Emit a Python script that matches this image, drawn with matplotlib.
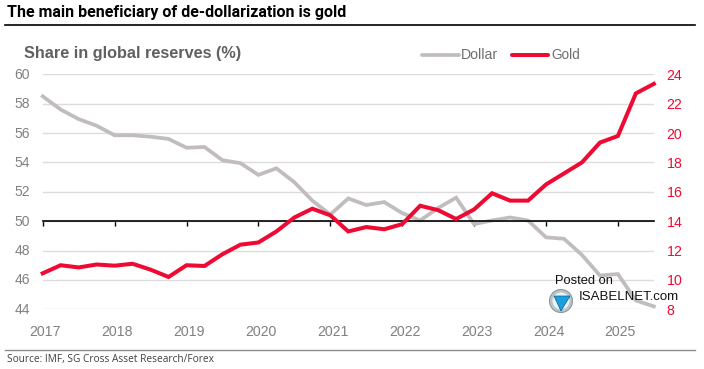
import matplotlib.pyplot as plt
import matplotlib.lines as mlines
from matplotlib.patches import Circle, Polygon
from matplotlib.transforms import ScaledTranslation
import numpy as np

# quarterly readings, 2017 to mid 2025
quarters = np.arange(35) / 4 + 2017
dollar = [58.5, 57.6, 56.95, 56.5, 55.85, 55.85, 55.75, 55.6, 55.0, 55.05,
          54.15, 53.95, 53.15, 53.6, 52.65, 51.4, 50.45, 51.55, 51.1, 51.3,
          50.55, 50.05, 50.9, 51.6, 49.8, 50.05, 50.25, 50.05, 48.9, 48.8,
          47.7, 46.3, 46.4, 44.6, 44.2]
gold = [10.45, 11.0, 10.85, 11.05, 10.97, 11.1, 10.7, 10.2, 11.0, 10.95,
        11.75, 12.4, 12.55, 13.3, 14.25, 14.85, 14.4, 13.3, 13.6, 13.45,
        13.8, 15.05, 14.75, 14.15, 14.8, 15.9, 15.4, 15.4, 16.5, 17.25,
        18.0, 19.35, 19.8, 22.7, 23.35]
years = list(range(2017, 2026))
left_ticks = list(range(44, 61, 2))
right_ticks = list(range(8, 25, 2))

W, H = 704, 369
GREY = '#c2bdbd'
RED = '#ee0a32'
TICKGREY = '#808080'
SANS = ['Liberation Sans', 'DejaVu Sans']

plt.rcParams['font.family'] = SANS
fig = plt.figure(figsize=(W / 100, H / 100), dpi=100)

x0, x1 = 42.7, 654
y_top, y_bot = 74.3, 309.3
ax = fig.add_axes([x0 / W, 1 - y_bot / H, (x1 - x0) / W, (y_bot - y_top) / H])
ax.set_xlim(2017, 2017 + (x1 - x0) / 71.9)
ax.set_ylim(44, 60)
ax.set_yticks(left_ticks)
ax.set_xticks(years)
ax.set_xticklabels(years)
ax.grid(axis='y', color='#dcdcdc', lw=1)
ax.set_axisbelow(True)
for s in ['top', 'left', 'right']:
    ax.spines[s].set_visible(False)
ax.spines['bottom'].set_position(('data', 50))
ax.spines['bottom'].set_linewidth(1.2)
ax.tick_params(axis='y', length=0, labelsize=10, labelcolor=TICKGREY, pad=9)
ax.tick_params(axis='x', direction='out', length=3.5, width=1.0, labelsize=10.2,
               labelcolor=TICKGREY, pad=71)
shift = ScaledTranslation(2.5 / 100, 0, fig.dpi_scale_trans)
for lab in ax.get_xticklabels():
    lab.set_transform(lab.get_transform() + shift)
up = ScaledTranslation(0, 1 / 100, fig.dpi_scale_trans)
for lab in ax.get_yticklabels():
    lab.set_transform(lab.get_transform() + up)

ax2 = ax.twinx()
ax2.set_ylim(8, 24)
ax2.set_yticks(right_ticks)
for s in ax2.spines.values():
    s.set_visible(False)
ax2.tick_params(axis='y', length=0, labelsize=10.2, labelcolor=RED, pad=9)

ax.plot(quarters, dollar, color=GREY, lw=2.7, solid_joinstyle='miter', clip_on=False)
ax2.plot(quarters, gold, color=RED, lw=2.9, solid_joinstyle='miter', clip_on=False)


def figtext(px, py, s, **kw):
    fig.text(px / W, 1 - py / H, s, **kw)


figtext(7.5, 12.5, 'The main beneficiary of de-dollarization is gold', fontsize=11.5,
        fontweight='bold', family=['Roboto', 'DejaVu Sans'], color='black', va='center')
figtext(24.5, 53.5, 'Share in global reserves (%)', fontsize=11.7, fontweight='bold',
        color='#5f6062', va='center')
figtext(7.5, 359.5, 'Source: IMF, SG Cross Asset Research/Forex', fontsize=7.3,
        family=['Open Sans', 'DejaVu Sans'], color='#404040', va='center')

# header and footer rules
fig.add_artist(mlines.Line2D([5 / W, 695 / W], [1 - 25 / H] * 2, color='black', lw=1.2))
fig.add_artist(mlines.Line2D([5 / W, 695 / W], [1 - 349.5 / H] * 2, color='#8c8c8c', lw=1))

# legend by hand, placed to match the reference
fig.add_artist(mlines.Line2D([422 / W, 459 / W], [1 - 55 / H] * 2, color=GREY, lw=2.7,
                             solid_capstyle='round'))
figtext(461, 55, 'Dollar', fontsize=10.2, color='#6e6e6e', va='center')
fig.add_artist(mlines.Line2D([512 / W, 548 / W], [1 - 55 / H] * 2, color=RED, lw=2.9,
                             solid_capstyle='round'))
figtext(551, 55, 'Gold', fontsize=9.8, color='#6e6e6e', va='center')

# watermark
figtext(555, 280.5, 'Posted on', fontsize=9.3, color='#111111', va='center')
figtext(579, 297.5, 'ISABELNET.com', fontsize=9.5, color='#111111', va='center')
logo = fig.add_axes([0, 0, 1, 1], facecolor='none')
logo.set_xlim(0, W)
logo.set_ylim(H, 0)
logo.axis('off')
logo.add_patch(Circle((561, 301), 11.5, fc='#b9c4cc', ec='#8a98a3', lw=0.8))
logo.add_patch(Circle((561, 301), 8.5, fc='#eef2f5', ec='none'))
logo.add_patch(Polygon([[554, 296], [570, 296], [561, 311]], fc='#18a0e0', ec='#0f5f8a', lw=0.5))

fig.savefig('out.png', dpi=100)
